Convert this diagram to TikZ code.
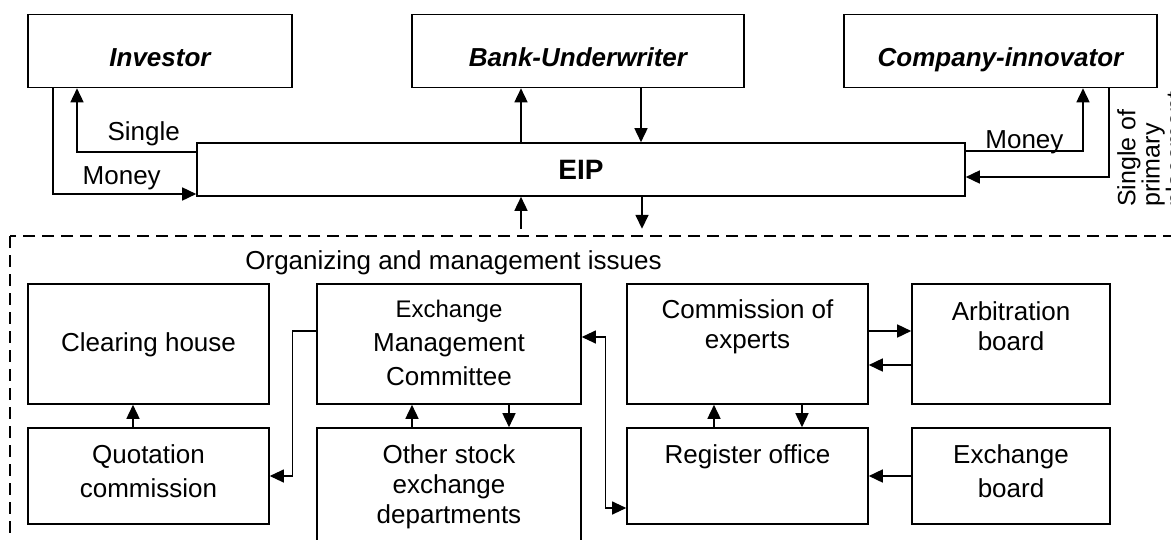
\documentclass[tikz,border=0pt]{standalone}
\usepackage{fontspec}
\setmainfont{Liberation Sans}
\usepackage{tikz}
\usetikzlibrary{arrows.meta}
\usetikzlibrary{positioning}
\tikzset{
    acteur/.style = {rectangle, draw, line width=1.6pt, inner sep=0pt, minimum height=73pt, text height=35pt, text depth=5pt, font=\fontsize{26}{32}\selectfont\bfseries\itshape},
    bloc/.style = {rectangle, draw, line width=1.6pt, inner sep=0pt, align=center, text height=19pt, font=\fontsize{26}{32}\selectfont},
    lien/.style = {line width=1.6pt},
    etiq/.style = {inner sep=0pt, font=\fontsize{26}{32}\selectfont},
    >={Triangle[length=14pt,width=13pt]}
}

\begin{document}
\begin{tikzpicture}[x=1pt, y=-1pt]
                \useasboundingbox (0,0) rectangle (1171,539);
                \node (inv) [acteur, minimum width=264pt] at (160, 51) {Investor};
                \node (bank) [acteur, minimum width=332pt] at (578, 51) {Bank-Underwriter};
                \node (comp) [acteur, minimum width=313pt] at (1000.5, 51) {Company-innovator};
                \node (eip) [bloc, minimum width=768pt, minimum height=53pt, text depth=0pt, font=\fontsize{28}{32}\selectfont\bfseries] at (581, 169.5) {EIP};
                \draw[lien, ->] ([yshift=17.5pt]eip.west) -| node[etiq, anchor=base, pos=0.22, yshift=12pt] (single) {Single} ([xshift=-83pt]inv.south);
                \draw[lien, ->] ([xshift=-107pt]inv.south) |- node[etiq, anchor=base, pos=0.74, yshift=10pt] (moneyin) {Money} ([yshift=-24.5pt]eip.west);
                \draw[lien, ->] ([xshift=-60pt]eip.north) -- ([xshift=-57pt]bank.south);
                \draw[lien, ->] ([xshift=63pt]bank.south) -- ([xshift=60pt]eip.north);
                \draw[lien, ->] ([yshift=18.5pt]eip.east) -| node[etiq, anchor=base, pos=0.25, yshift=3pt] (moneyout) {Money} ([xshift=82.5pt]comp.south);
                \draw[lien, ->] ([xshift=108.5pt]comp.south) |- ([yshift=-7.5pt]eip.east);
                \node (placement) [etiq, rotate=90, anchor=north west, align=left, font=\fontsize{25}{23}\selectfont] at (1117, 207) {Single of\\primary\\placement};
                \draw[lien, <-] ([xshift=-60pt]eip.south) -- ++(0,32);
                \draw[lien, ->] ([xshift=61pt]eip.south) -- ++(0,32);
                \draw[line width=1.3pt, dash pattern=on 12pt off 7pt] (10,236) rectangle (1190,560);
                \node (orgtitle) [etiq] at (453.5, 263) {Organizing and management issues};
                \node (clear) [bloc, minimum width=241pt, minimum height=120pt, text depth=5pt] at (148.5, 344) {Clearing house};
                \node (quot) [bloc, minimum width=241pt, minimum height=96pt, text height=53pt, text depth=11pt, font=\fontsize{26}{34}\selectfont] at (148.5, 476) {Quotation\\commission};
                \node (emc) [bloc, minimum width=264pt, minimum height=120pt, text height=87pt, text depth=5pt, font=\fontsize{26}{34}\selectfont] at (449, 344) {{\fontsize{24}{34}\selectfont Exchange}\\Management\\Committee};
                \node (other) [bloc, minimum width=264pt, minimum height=118pt, text height=79pt, text depth=7pt, font=\fontsize{26}{30}\selectfont] at (449, 487) {Other stock\\exchange\\departments};
                \node (ce) [bloc, minimum width=241pt, minimum height=120pt, text height=49pt, text depth=41pt, font=\fontsize{26}{30}\selectfont] at (747.5, 344) {Commission of\\experts};
                \node (arb) [bloc, minimum width=198pt, minimum height=120pt, text height=49pt, text depth=37pt, font=\fontsize{26}{30}\selectfont] at (1011, 344) {Arbitration\\board};
                \node (reg) [bloc, minimum width=241pt, minimum height=96pt, text depth=45pt] at (747.5, 476) {Register office};
                \node (exb) [bloc, minimum width=198pt, minimum height=96pt, text height=53pt, text depth=11pt, font=\fontsize{26}{34}\selectfont] at (1011, 476) {Exchange\\board};
                \draw[lien, ->] ([xshift=-15.5pt]quot.north) -- ([xshift=-15.5pt]clear.south);
                \draw[line width=1.1pt, ->] ([yshift=13pt]emc.west) -- ++(-24,0) |- (quot.east);
                \draw[lien, ->] ([xshift=-37pt]other.north) -- ([xshift=-37pt]emc.south);
                \draw[lien, ->] ([xshift=60pt]emc.south) -- ([xshift=60pt]other.north);
                \draw[line width=1.1pt, <->] ([yshift=7pt]emc.east) -- ++(24,0) |- ([yshift=-32pt]reg.west);
                \draw[lien, ->] ([yshift=13pt]ce.east) -- ([yshift=13pt]arb.west);
                \draw[lien, ->] ([yshift=-21pt]arb.west) -- ([yshift=-21pt]ce.east);
                \draw[lien, ->] ([xshift=-33.5pt]reg.north) -- ([xshift=-33.5pt]ce.south);
                \draw[lien, ->] ([xshift=54.5pt]ce.south) -- ([xshift=54.5pt]reg.north);
                \draw[lien, ->] (exb.west) -- (reg.east);
            \end{tikzpicture}
\end{document}
